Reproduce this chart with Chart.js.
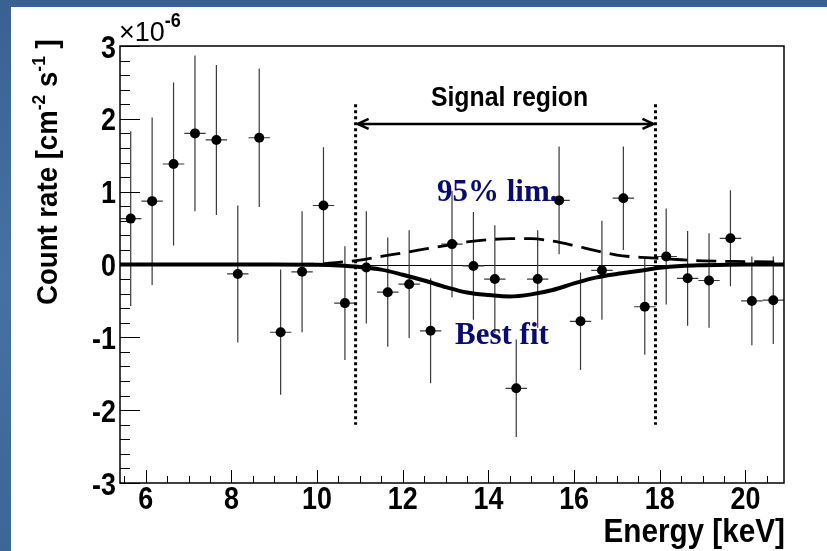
<!DOCTYPE html>
<html>
<head>
<meta charset="utf-8">
<script src="https://cdn.jsdelivr.net/npm/chart.js@4.4.1/dist/chart.umd.min.js"></script>
<style>
  html, body { margin: 0; padding: 0; background: #fff; }
  canvas { display: block; }
</style>
</head>
<body>
<canvas id="chart" width="827" height="551"></canvas>
<script>
// measured points (count rate in units of 1e-6 cm^-2 s^-1)
const energy = [5.65, 6.15, 6.65, 7.15, 7.65, 8.15, 8.65, 9.15, 9.65, 10.15, 10.65,
                11.15, 11.65, 12.15, 12.65, 13.15, 13.65, 14.15, 14.65, 15.15, 15.65,
                16.15, 16.65, 17.15, 17.65, 18.15, 18.65, 19.15, 19.65, 20.15, 20.65];
const rate = [0.63, 0.87, 1.38, 1.80, 1.71, -0.13, 1.74, -0.93, -0.10, 0.81, -0.53,
              -0.04, -0.38, -0.27, -0.91, 0.28, -0.02, -0.20, -1.70, -0.20, 0.88,
              -0.78, -0.08, 0.91, -0.58, 0.11, -0.19, -0.22, 0.36, -0.50, -0.49];
const rateErr = [1.20, 1.15, 1.12, 1.07, 1.03, 0.94, 0.95, 0.86, 0.83, 0.80, 0.78,
                 0.77, 0.75, 0.74, 0.72, 0.73, 0.74, 0.74, 0.67, 0.67, 0.74,
                 0.67, 0.68, 0.71, 0.66, 0.66, 0.65, 0.65, 0.66, 0.61, 0.60];
const binHalf = 0.25;

// fitted curves
const curveEnergy = [5.4, 9.0, 10.0, 10.5, 11.0, 11.5, 12.0, 12.5, 13.0, 13.5, 14.0, 14.5,
                     15.0, 15.5, 16.0, 16.5, 17.0, 17.5, 18.0, 18.5, 19.0, 20.0, 20.9];
const bestFit = [0, 0, -0.005, -0.015, -0.035, -0.07, -0.14, -0.22, -0.31, -0.385, -0.42, -0.44,
                 -0.41, -0.35, -0.26, -0.18, -0.13, -0.09, -0.045, -0.02, -0.01, 0, 0];
const lim95 = [0, 0, 0.005, 0.03, 0.06, 0.11, 0.16, 0.21, 0.26, 0.31, 0.34, 0.355,
               0.355, 0.32, 0.26, 0.19, 0.13, 0.10, 0.085, 0.065, 0.05, 0.04, 0.035];

const xTicks = [6, 8, 10, 12, 14, 16, 18, 20];
const yTicks = [-3, -2, -1, 0, 1, 2, 3];
const signalLo = 10.9, signalHi = 17.9;

const sans = '"Liberation Sans", Arial, sans-serif';
const serif = '"Liberation Serif", "Times New Roman", serif';

function pts(xs, ys) { return xs.map((x, i) => ({ x: x, y: ys[i] })); }

// narrow, tall text like the ROOT fonts
function squeezed(ctx, txt, x, y, align, sx) {
  ctx.save();
  ctx.translate(x, y);
  ctx.scale(sx, 1);
  ctx.textAlign = align;
  ctx.fillText(txt, 0, 0);
  ctx.restore();
}

const decor = {
  id: 'decor',
  beforeDraw(chart) {
    const ctx = chart.ctx;
    ctx.save();
    ctx.fillStyle = '#fff';
    ctx.fillRect(0, 0, chart.width, chart.height);
    const g = ctx.createLinearGradient(0, 0, 0, chart.height);
    g.addColorStop(0, '#3a6192');
    g.addColorStop(0.5, '#4870a3');
    g.addColorStop(1, '#3d6698');
    ctx.fillStyle = g;
    ctx.fillRect(0, 0, 11, chart.height);
    ctx.fillRect(0, 0, chart.width, 7);
    ctx.restore();
  },
  beforeDatasetsDraw(chart) {
    const ctx = chart.ctx, xs = chart.scales.x, ys = chart.scales.y, a = chart.chartArea;
    ctx.save();
    // zero line
    ctx.strokeStyle = '#000';
    ctx.lineWidth = 1;
    ctx.beginPath();
    ctx.moveTo(a.left, Math.round(ys.getPixelForValue(0)) + 0.5);
    ctx.lineTo(a.right, Math.round(ys.getPixelForValue(0)) + 0.5);
    ctx.stroke();
    // error bars
    ctx.strokeStyle = '#3a3a3a';
    ctx.lineWidth = 1.2;
    energy.forEach((e, i) => {
      const px = xs.getPixelForValue(e), py = ys.getPixelForValue(rate[i]);
      ctx.beginPath();
      ctx.moveTo(px, ys.getPixelForValue(rate[i] + rateErr[i]));
      ctx.lineTo(px, ys.getPixelForValue(rate[i] - rateErr[i]));
      ctx.moveTo(xs.getPixelForValue(e - binHalf), py);
      ctx.lineTo(xs.getPixelForValue(e + binHalf), py);
      ctx.stroke();
    });
    ctx.restore();
  },
  afterDatasetsDraw(chart) {
    const ctx = chart.ctx, xs = chart.scales.x, ys = chart.scales.y, a = chart.chartArea;
    ctx.save();

    // signal region
    const x1 = xs.getPixelForValue(signalLo), x2 = xs.getPixelForValue(signalHi);
    ctx.strokeStyle = '#000';
    ctx.lineWidth = 3;
    ctx.setLineDash([3, 3]);
    ctx.beginPath();
    [x1, x2].forEach(x => {
      ctx.moveTo(x, ys.getPixelForValue(2.2));
      ctx.lineTo(x, ys.getPixelForValue(-2.2));
    });
    ctx.stroke();
    ctx.setLineDash([]);
    const ay = ys.getPixelForValue(1.93);
    ctx.lineWidth = 2.5;
    ctx.beginPath();
    ctx.moveTo(x1 + 2, ay); ctx.lineTo(x2 - 2, ay);
    ctx.moveTo(x1 + 13, ay - 5); ctx.lineTo(x1 + 2, ay); ctx.lineTo(x1 + 13, ay + 5);
    ctx.moveTo(x2 - 13, ay - 5); ctx.lineTo(x2 - 2, ay); ctx.lineTo(x2 - 13, ay + 5);
    ctx.stroke();
    ctx.fillStyle = '#000';
    ctx.textBaseline = 'alphabetic';
    ctx.font = 'bold 27px ' + sans;
    squeezed(ctx, 'Signal region', (x1 + x2) / 2 + 4, 106, 'center', 0.92);

    ctx.fillStyle = '#0b0b6e';
    ctx.font = 'bold 31px ' + serif;
    ctx.textAlign = 'left';
    ctx.fillText('95% lim.', 437, 201);
    ctx.fillText('Best fit', 455, 344);

    // tick labels
    ctx.fillStyle = '#000';
    ctx.font = 'bold 32px ' + sans;
    xs.ticks.forEach(t => {
      squeezed(ctx, String(t.value), xs.getPixelForValue(t.value), 509, 'center', 0.84);
    });
    ys.ticks.forEach(t => {
      squeezed(ctx, String(t.value), a.left - 4, ys.getPixelForValue(t.value) + 11.5, 'right', 0.84);
    });

    // tick marks inside the frame
    ctx.strokeStyle = '#000';
    ctx.lineWidth = 1;
    ctx.beginPath();
    for (let v = 5.5; v <= 20.9; v += 0.5) {
      const x = Math.round(xs.getPixelForValue(v)) + 0.5;
      const len = (Math.abs(v / 2 - Math.round(v / 2)) < 1e-6) ? 13 : 7;
      ctx.moveTo(x, a.bottom); ctx.lineTo(x, a.bottom - len);
    }
    for (let k = -15; k <= 15; k++) {
      const y = Math.round(ys.getPixelForValue(k * 0.2)) + 0.5;
      const len = (k % 5 === 0) ? 20 : 10;
      ctx.moveTo(a.left, y); ctx.lineTo(a.left + len, y);
    }
    ctx.stroke();

    // frame
    ctx.lineWidth = 1.5;
    ctx.strokeRect(a.left, a.top, a.right - a.left, a.bottom - a.top);

    // axis titles
    ctx.fillStyle = '#000';
    ctx.font = 'bold 33px ' + sans;
    squeezed(ctx, 'Energy [keV]', a.right + 1, 542, 'right', 0.9);

    ctx.save();
    ctx.translate(57, 305);
    ctx.rotate(-Math.PI / 2);
    ctx.scale(0.92, 1);
    ctx.textAlign = 'left';
    const big = 'bold 30px ' + sans, small = 'bold 19px ' + sans;
    let cx = 0;
    const parts = [['Count rate [cm', big, 0], ['-2', small, -12], [' s', big, 0], ['-1', small, -12], [' ]', big, 0]];
    parts.forEach(p => {
      ctx.font = p[1];
      ctx.fillText(p[0], cx, p[2]);
      cx += ctx.measureText(p[0]).width;
    });
    ctx.restore();

    // exponent label
    ctx.font = '27px ' + sans;
    ctx.textAlign = 'left';
    ctx.fillText('\u00d710', 119, 41);
    const w = ctx.measureText('\u00d710').width;
    ctx.font = 'bold 20px ' + sans;
    squeezed(ctx, '-6', 119 + w, 27, 'left', 0.9);

    ctx.restore();
  }
};

new Chart(document.getElementById('chart'), {
  type: 'scatter',
  data: {
    datasets: [
      {
        label: 'data',
        data: pts(energy, rate),
        pointRadius: 5,
        pointBackgroundColor: '#000',
        pointBorderColor: '#000',
        pointBorderWidth: 0,
        showLine: false,
        order: 0
      },
      {
        label: 'Best fit',
        data: pts(curveEnergy, bestFit),
        showLine: true,
        borderColor: '#000',
        borderWidth: 4,
        pointRadius: 0,
        cubicInterpolationMode: 'monotone',
        order: 1
      },
      {
        label: '95% lim.',
        data: pts(curveEnergy, lim95),
        showLine: true,
        borderColor: '#000',
        borderWidth: 2.8,
        borderDash: [20, 9],
        pointRadius: 0,
        cubicInterpolationMode: 'monotone',
        order: 2
      }
    ]
  },
  options: {
    responsive: false,
    animation: false,
    devicePixelRatio: 1,
    layout: { padding: { left: 0, right: 43, top: 46, bottom: 0 } },
    plugins: { legend: { display: false }, tooltip: { enabled: false } },
    scales: {
      x: {
        type: 'linear',
        min: 5.4,
        max: 20.9,
        afterFit: s => { s.height = 68; },
        afterBuildTicks: s => { s.ticks = xTicks.map(v => ({ value: v })); },
        grid: { display: false, drawTicks: false },
        border: { display: false },
        ticks: { display: false }
      },
      y: {
        type: 'linear',
        min: -3,
        max: 3,
        afterFit: s => { s.width = 120; },
        afterBuildTicks: s => { s.ticks = yTicks.map(v => ({ value: v })); },
        grid: { display: false, drawTicks: false },
        border: { display: false },
        ticks: { display: false }
      }
    }
  },
  plugins: [decor]
});
</script>
</body>
</html>
